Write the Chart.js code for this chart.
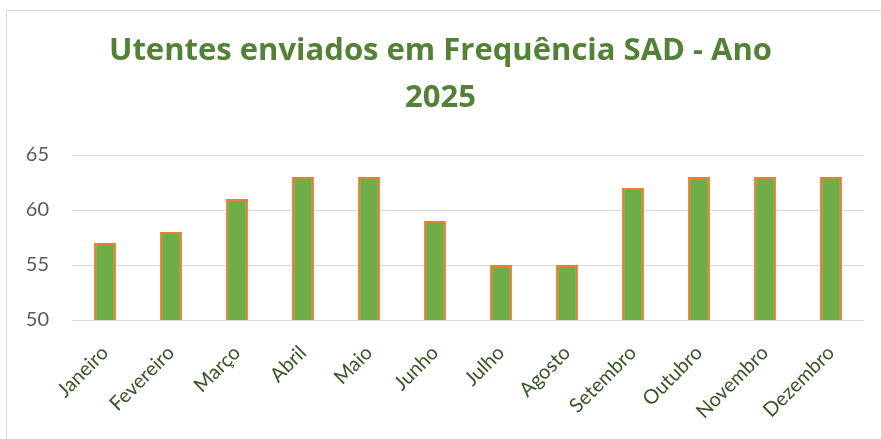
<!DOCTYPE html>
<html>
<head>
<meta charset="utf-8">
<script src="https://cdn.jsdelivr.net/npm/chart.js@4.4.0/dist/chart.umd.min.js"></script>
<style>
  html, body { margin: 0; padding: 0; background: #ffffff; }
  #wrap { position: relative; width: 881px; height: 439px; overflow: hidden; }
  #frame { position: absolute; left: 6px; top: 10px; width: 900px; height: 460px; border: 1px solid #d9d9d9; box-sizing: border-box; }
  #c { position: absolute; left: 0; top: 0; }
</style>
</head>
<body>
<div id="wrap">
  <div id="frame"></div>
  <canvas id="c" width="881" height="439"></canvas>
</div>
<script>
const categories = ["Janeiro", "Fevereiro", "Março", "Abril", "Maio", "Junho", "Julho", "Agosto", "Setembro", "Outubro", "Novembro", "Dezembro"];
const values = [57, 58, 61, 63, 63, 59, 55, 55, 62, 63, 63, 63];
const titleLines = ["Utentes enviados em Frequência SAD - Ano", "2025"];
const yTicks = [50, 55, 60, 65];

new Chart(document.getElementById("c"), {
  type: "bar",
  data: {
    labels: categories,
    datasets: [{
      data: values,
      backgroundColor: "#70AD47",
      borderColor: "#ED7D31",
      borderWidth: 2,
      barPercentage: 0.33,
      categoryPercentage: 1.0
    }]
  },
  options: {
    responsive: false,
    animation: false,
    layout: { padding: { left: 17, right: 17, top: 0, bottom: 0 } },
    plugins: {
      legend: { display: false },
      tooltip: { enabled: false },
      title: {
        display: true,
        text: titleLines,
        color: "#538135",
        font: { family: "Open Sans", size: 31, weight: "bold", lineHeight: 47 / 31 },
        padding: { top: 28, bottom: 33 }
      }
    },
    scales: {
      y: {
        min: yTicks[0],
        max: yTicks[yTicks.length - 1],
        afterBuildTicks: (axis) => { axis.ticks = yTicks.map(v => ({ value: v })); },
        ticks: { color: "#595959", font: { family: "Lato", size: 20 }, padding: 23 },
        grid: { color: "#d9d9d9", lineWidth: 1, drawTicks: false },
        border: { display: false },
        afterFit: (axis) => { axis.width = 55; }
      },
      x: {
        ticks: { color: "#375623", font: { family: "Lato", size: 20 }, minRotation: 45, maxRotation: 45, padding: 21 },
        grid: { display: false, drawTicks: false },
        border: { display: false },
        afterFit: (axis) => { axis.height = 119; }
      }
    }
  }
});
</script>
</body>
</html>
